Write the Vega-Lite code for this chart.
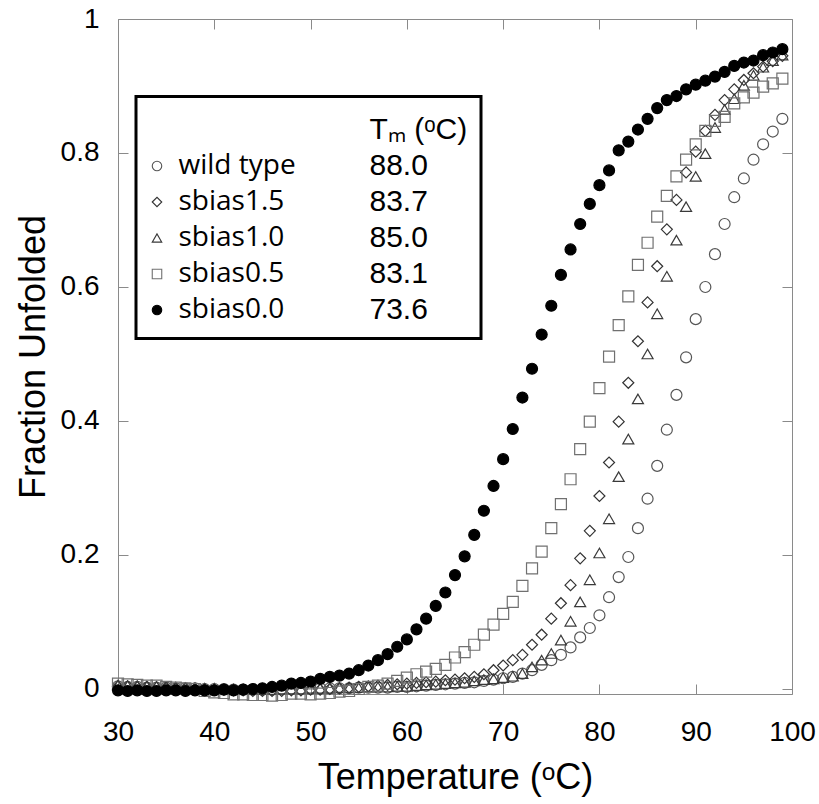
{
  "$schema": "https://vega.github.io/schema/vega-lite/v6.json",
  "width": 674,
  "height": 675,
  "autosize": "none",
  "padding": {"left": 118, "top": 19, "right": 27, "bottom": 110},
  "background": "white",
  "config": {
    "view": {"stroke": "#8a8a8a", "strokeWidth": 1},
    "font": "Liberation Sans",
    "axis": {
      "domain": false,
      "grid": false,
      "tickColor": "#8a8a8a",
      "tickWidth": 1,
      "tickSize": -10,
      "labelFlush": false,
      "labelFont": "Liberation Sans",
      "labelFontSize": 28,
      "labelColor": "black",
      "titleFont": "Liberation Sans",
      "titleFontSize": 36,
      "titleFontWeight": "normal",
      "titleColor": "black"
    }
  },
  "data": {
    "values": [
      {"series": "wild type", "temp": 30, "frac": 0.004}, {"series": "wild type", "temp": 31, "frac": 0.003}, {"series": "wild type", "temp": 32, "frac": 0.003}, {"series": "wild type", "temp": 33, "frac": 0.002}, {"series": "wild type", "temp": 34, "frac": 0.002}, {"series": "wild type", "temp": 35, "frac": 0.002}, {"series": "wild type", "temp": 36, "frac": 0.001}, {"series": "wild type", "temp": 37, "frac": 0.001}, {"series": "wild type", "temp": 38, "frac": 0.001}, {"series": "wild type", "temp": 39, "frac": 0.0},
      {"series": "wild type", "temp": 40, "frac": 0.0}, {"series": "wild type", "temp": 41, "frac": 0.0}, {"series": "wild type", "temp": 42, "frac": -0.001}, {"series": "wild type", "temp": 43, "frac": -0.001}, {"series": "wild type", "temp": 44, "frac": -0.001}, {"series": "wild type", "temp": 45, "frac": -0.001}, {"series": "wild type", "temp": 46, "frac": -0.001}, {"series": "wild type", "temp": 47, "frac": 0.0}, {"series": "wild type", "temp": 48, "frac": 0.0}, {"series": "wild type", "temp": 49, "frac": 0.0},
      {"series": "wild type", "temp": 50, "frac": 0.0}, {"series": "wild type", "temp": 51, "frac": 0.001}, {"series": "wild type", "temp": 52, "frac": 0.001}, {"series": "wild type", "temp": 53, "frac": 0.001}, {"series": "wild type", "temp": 54, "frac": 0.001}, {"series": "wild type", "temp": 55, "frac": 0.002}, {"series": "wild type", "temp": 56, "frac": 0.002}, {"series": "wild type", "temp": 57, "frac": 0.002}, {"series": "wild type", "temp": 58, "frac": 0.002}, {"series": "wild type", "temp": 59, "frac": 0.003},
      {"series": "wild type", "temp": 60, "frac": 0.003}, {"series": "wild type", "temp": 61, "frac": 0.004}, {"series": "wild type", "temp": 62, "frac": 0.005}, {"series": "wild type", "temp": 63, "frac": 0.006}, {"series": "wild type", "temp": 64, "frac": 0.007}, {"series": "wild type", "temp": 65, "frac": 0.008}, {"series": "wild type", "temp": 66, "frac": 0.009}, {"series": "wild type", "temp": 67, "frac": 0.010}, {"series": "wild type", "temp": 68, "frac": 0.012}, {"series": "wild type", "temp": 69, "frac": 0.014},
      {"series": "wild type", "temp": 70, "frac": 0.016}, {"series": "wild type", "temp": 71, "frac": 0.018}, {"series": "wild type", "temp": 72, "frac": 0.023}, {"series": "wild type", "temp": 73, "frac": 0.028}, {"series": "wild type", "temp": 74, "frac": 0.036}, {"series": "wild type", "temp": 75, "frac": 0.043}, {"series": "wild type", "temp": 76, "frac": 0.051}, {"series": "wild type", "temp": 77, "frac": 0.062}, {"series": "wild type", "temp": 78, "frac": 0.077}, {"series": "wild type", "temp": 79, "frac": 0.091},
      {"series": "wild type", "temp": 80, "frac": 0.110}, {"series": "wild type", "temp": 81, "frac": 0.137}, {"series": "wild type", "temp": 82, "frac": 0.167}, {"series": "wild type", "temp": 83, "frac": 0.197}, {"series": "wild type", "temp": 84, "frac": 0.240}, {"series": "wild type", "temp": 85, "frac": 0.284}, {"series": "wild type", "temp": 86, "frac": 0.333}, {"series": "wild type", "temp": 87, "frac": 0.387}, {"series": "wild type", "temp": 88, "frac": 0.439}, {"series": "wild type", "temp": 89, "frac": 0.495},
      {"series": "wild type", "temp": 90, "frac": 0.552}, {"series": "wild type", "temp": 91, "frac": 0.600}, {"series": "wild type", "temp": 92, "frac": 0.649}, {"series": "wild type", "temp": 93, "frac": 0.694}, {"series": "wild type", "temp": 94, "frac": 0.734}, {"series": "wild type", "temp": 95, "frac": 0.762}, {"series": "wild type", "temp": 96, "frac": 0.790}, {"series": "wild type", "temp": 97, "frac": 0.813}, {"series": "wild type", "temp": 98, "frac": 0.832}, {"series": "wild type", "temp": 99, "frac": 0.851},

      {"series": "sbias1.5", "temp": 30, "frac": 0.004}, {"series": "sbias1.5", "temp": 31, "frac": 0.004}, {"series": "sbias1.5", "temp": 32, "frac": 0.003}, {"series": "sbias1.5", "temp": 33, "frac": 0.003}, {"series": "sbias1.5", "temp": 34, "frac": 0.002}, {"series": "sbias1.5", "temp": 35, "frac": 0.002}, {"series": "sbias1.5", "temp": 36, "frac": 0.001}, {"series": "sbias1.5", "temp": 37, "frac": 0.001}, {"series": "sbias1.5", "temp": 38, "frac": 0.0}, {"series": "sbias1.5", "temp": 39, "frac": 0.0},
      {"series": "sbias1.5", "temp": 40, "frac": -0.001}, {"series": "sbias1.5", "temp": 41, "frac": -0.001}, {"series": "sbias1.5", "temp": 42, "frac": -0.002}, {"series": "sbias1.5", "temp": 43, "frac": -0.002}, {"series": "sbias1.5", "temp": 44, "frac": -0.003}, {"series": "sbias1.5", "temp": 45, "frac": -0.003}, {"series": "sbias1.5", "temp": 46, "frac": -0.003}, {"series": "sbias1.5", "temp": 47, "frac": -0.003}, {"series": "sbias1.5", "temp": 48, "frac": -0.002}, {"series": "sbias1.5", "temp": 49, "frac": -0.002},
      {"series": "sbias1.5", "temp": 50, "frac": -0.001}, {"series": "sbias1.5", "temp": 51, "frac": -0.001}, {"series": "sbias1.5", "temp": 52, "frac": 0.0}, {"series": "sbias1.5", "temp": 53, "frac": 0.001}, {"series": "sbias1.5", "temp": 54, "frac": 0.002}, {"series": "sbias1.5", "temp": 55, "frac": 0.003}, {"series": "sbias1.5", "temp": 56, "frac": 0.004}, {"series": "sbias1.5", "temp": 57, "frac": 0.005}, {"series": "sbias1.5", "temp": 58, "frac": 0.006}, {"series": "sbias1.5", "temp": 59, "frac": 0.007},
      {"series": "sbias1.5", "temp": 60, "frac": 0.008}, {"series": "sbias1.5", "temp": 61, "frac": 0.009}, {"series": "sbias1.5", "temp": 62, "frac": 0.010}, {"series": "sbias1.5", "temp": 63, "frac": 0.011}, {"series": "sbias1.5", "temp": 64, "frac": 0.013}, {"series": "sbias1.5", "temp": 65, "frac": 0.014}, {"series": "sbias1.5", "temp": 66, "frac": 0.016}, {"series": "sbias1.5", "temp": 67, "frac": 0.018}, {"series": "sbias1.5", "temp": 68, "frac": 0.022}, {"series": "sbias1.5", "temp": 69, "frac": 0.028},
      {"series": "sbias1.5", "temp": 70, "frac": 0.035}, {"series": "sbias1.5", "temp": 71, "frac": 0.043}, {"series": "sbias1.5", "temp": 72, "frac": 0.051}, {"series": "sbias1.5", "temp": 73, "frac": 0.066}, {"series": "sbias1.5", "temp": 74, "frac": 0.081}, {"series": "sbias1.5", "temp": 75, "frac": 0.105}, {"series": "sbias1.5", "temp": 76, "frac": 0.128}, {"series": "sbias1.5", "temp": 77, "frac": 0.155}, {"series": "sbias1.5", "temp": 78, "frac": 0.195}, {"series": "sbias1.5", "temp": 79, "frac": 0.236},
      {"series": "sbias1.5", "temp": 80, "frac": 0.288}, {"series": "sbias1.5", "temp": 81, "frac": 0.338}, {"series": "sbias1.5", "temp": 82, "frac": 0.399}, {"series": "sbias1.5", "temp": 83, "frac": 0.457}, {"series": "sbias1.5", "temp": 84, "frac": 0.519}, {"series": "sbias1.5", "temp": 85, "frac": 0.577}, {"series": "sbias1.5", "temp": 86, "frac": 0.631}, {"series": "sbias1.5", "temp": 87, "frac": 0.686}, {"series": "sbias1.5", "temp": 88, "frac": 0.730}, {"series": "sbias1.5", "temp": 89, "frac": 0.771},
      {"series": "sbias1.5", "temp": 90, "frac": 0.802}, {"series": "sbias1.5", "temp": 91, "frac": 0.833}, {"series": "sbias1.5", "temp": 92, "frac": 0.857}, {"series": "sbias1.5", "temp": 93, "frac": 0.879}, {"series": "sbias1.5", "temp": 94, "frac": 0.895}, {"series": "sbias1.5", "temp": 95, "frac": 0.909}, {"series": "sbias1.5", "temp": 96, "frac": 0.919}, {"series": "sbias1.5", "temp": 97, "frac": 0.929}, {"series": "sbias1.5", "temp": 98, "frac": 0.937}, {"series": "sbias1.5", "temp": 99, "frac": 0.945},

      {"series": "sbias1.0", "temp": 30, "frac": 0.006}, {"series": "sbias1.0", "temp": 31, "frac": 0.005}, {"series": "sbias1.0", "temp": 32, "frac": 0.005}, {"series": "sbias1.0", "temp": 33, "frac": 0.004}, {"series": "sbias1.0", "temp": 34, "frac": 0.004}, {"series": "sbias1.0", "temp": 35, "frac": 0.003}, {"series": "sbias1.0", "temp": 36, "frac": 0.003}, {"series": "sbias1.0", "temp": 37, "frac": 0.002}, {"series": "sbias1.0", "temp": 38, "frac": 0.002}, {"series": "sbias1.0", "temp": 39, "frac": 0.001},
      {"series": "sbias1.0", "temp": 40, "frac": 0.001}, {"series": "sbias1.0", "temp": 41, "frac": 0.0}, {"series": "sbias1.0", "temp": 42, "frac": 0.0}, {"series": "sbias1.0", "temp": 43, "frac": 0.0}, {"series": "sbias1.0", "temp": 44, "frac": -0.001}, {"series": "sbias1.0", "temp": 45, "frac": -0.001}, {"series": "sbias1.0", "temp": 46, "frac": -0.001}, {"series": "sbias1.0", "temp": 47, "frac": 0.0}, {"series": "sbias1.0", "temp": 48, "frac": 0.0}, {"series": "sbias1.0", "temp": 49, "frac": 0.0},
      {"series": "sbias1.0", "temp": 50, "frac": 0.001}, {"series": "sbias1.0", "temp": 51, "frac": 0.001}, {"series": "sbias1.0", "temp": 52, "frac": 0.001}, {"series": "sbias1.0", "temp": 53, "frac": 0.002}, {"series": "sbias1.0", "temp": 54, "frac": 0.002}, {"series": "sbias1.0", "temp": 55, "frac": 0.002}, {"series": "sbias1.0", "temp": 56, "frac": 0.003}, {"series": "sbias1.0", "temp": 57, "frac": 0.003}, {"series": "sbias1.0", "temp": 58, "frac": 0.003}, {"series": "sbias1.0", "temp": 59, "frac": 0.004},
      {"series": "sbias1.0", "temp": 60, "frac": 0.004}, {"series": "sbias1.0", "temp": 61, "frac": 0.005}, {"series": "sbias1.0", "temp": 62, "frac": 0.006}, {"series": "sbias1.0", "temp": 63, "frac": 0.007}, {"series": "sbias1.0", "temp": 64, "frac": 0.008}, {"series": "sbias1.0", "temp": 65, "frac": 0.009}, {"series": "sbias1.0", "temp": 66, "frac": 0.010}, {"series": "sbias1.0", "temp": 67, "frac": 0.012}, {"series": "sbias1.0", "temp": 68, "frac": 0.014}, {"series": "sbias1.0", "temp": 69, "frac": 0.015},
      {"series": "sbias1.0", "temp": 70, "frac": 0.017}, {"series": "sbias1.0", "temp": 71, "frac": 0.019}, {"series": "sbias1.0", "temp": 72, "frac": 0.023}, {"series": "sbias1.0", "temp": 73, "frac": 0.033}, {"series": "sbias1.0", "temp": 74, "frac": 0.043}, {"series": "sbias1.0", "temp": 75, "frac": 0.053}, {"series": "sbias1.0", "temp": 76, "frac": 0.073}, {"series": "sbias1.0", "temp": 77, "frac": 0.101}, {"series": "sbias1.0", "temp": 78, "frac": 0.130}, {"series": "sbias1.0", "temp": 79, "frac": 0.163},
      {"series": "sbias1.0", "temp": 80, "frac": 0.203}, {"series": "sbias1.0", "temp": 81, "frac": 0.254}, {"series": "sbias1.0", "temp": 82, "frac": 0.317}, {"series": "sbias1.0", "temp": 83, "frac": 0.373}, {"series": "sbias1.0", "temp": 84, "frac": 0.433}, {"series": "sbias1.0", "temp": 85, "frac": 0.500}, {"series": "sbias1.0", "temp": 86, "frac": 0.560}, {"series": "sbias1.0", "temp": 87, "frac": 0.616}, {"series": "sbias1.0", "temp": 88, "frac": 0.670}, {"series": "sbias1.0", "temp": 89, "frac": 0.720},
      {"series": "sbias1.0", "temp": 90, "frac": 0.765}, {"series": "sbias1.0", "temp": 91, "frac": 0.799}, {"series": "sbias1.0", "temp": 92, "frac": 0.838}, {"series": "sbias1.0", "temp": 93, "frac": 0.865}, {"series": "sbias1.0", "temp": 94, "frac": 0.881}, {"series": "sbias1.0", "temp": 95, "frac": 0.901}, {"series": "sbias1.0", "temp": 96, "frac": 0.916}, {"series": "sbias1.0", "temp": 97, "frac": 0.928}, {"series": "sbias1.0", "temp": 98, "frac": 0.938}, {"series": "sbias1.0", "temp": 99, "frac": 0.946},

      {"series": "sbias0.5", "temp": 30, "frac": 0.008}, {"series": "sbias0.5", "temp": 31, "frac": 0.007}, {"series": "sbias0.5", "temp": 32, "frac": 0.006}, {"series": "sbias0.5", "temp": 33, "frac": 0.005}, {"series": "sbias0.5", "temp": 34, "frac": 0.005}, {"series": "sbias0.5", "temp": 35, "frac": 0.003}, {"series": "sbias0.5", "temp": 36, "frac": 0.002}, {"series": "sbias0.5", "temp": 37, "frac": 0.001}, {"series": "sbias0.5", "temp": 38, "frac": 0.0}, {"series": "sbias0.5", "temp": 39, "frac": -0.003},
      {"series": "sbias0.5", "temp": 40, "frac": -0.005}, {"series": "sbias0.5", "temp": 41, "frac": -0.006}, {"series": "sbias0.5", "temp": 42, "frac": -0.008}, {"series": "sbias0.5", "temp": 43, "frac": -0.008}, {"series": "sbias0.5", "temp": 44, "frac": -0.009}, {"series": "sbias0.5", "temp": 45, "frac": -0.009}, {"series": "sbias0.5", "temp": 46, "frac": -0.010}, {"series": "sbias0.5", "temp": 47, "frac": -0.009}, {"series": "sbias0.5", "temp": 48, "frac": -0.007}, {"series": "sbias0.5", "temp": 49, "frac": -0.007},
      {"series": "sbias0.5", "temp": 50, "frac": -0.008}, {"series": "sbias0.5", "temp": 51, "frac": -0.007}, {"series": "sbias0.5", "temp": 52, "frac": -0.006}, {"series": "sbias0.5", "temp": 53, "frac": -0.004}, {"series": "sbias0.5", "temp": 54, "frac": -0.003}, {"series": "sbias0.5", "temp": 55, "frac": 0.0}, {"series": "sbias0.5", "temp": 56, "frac": 0.003}, {"series": "sbias0.5", "temp": 57, "frac": 0.005}, {"series": "sbias0.5", "temp": 58, "frac": 0.008}, {"series": "sbias0.5", "temp": 59, "frac": 0.012},
      {"series": "sbias0.5", "temp": 60, "frac": 0.017}, {"series": "sbias0.5", "temp": 61, "frac": 0.022}, {"series": "sbias0.5", "temp": 62, "frac": 0.026}, {"series": "sbias0.5", "temp": 63, "frac": 0.030}, {"series": "sbias0.5", "temp": 64, "frac": 0.036}, {"series": "sbias0.5", "temp": 65, "frac": 0.047}, {"series": "sbias0.5", "temp": 66, "frac": 0.055}, {"series": "sbias0.5", "temp": 67, "frac": 0.066}, {"series": "sbias0.5", "temp": 68, "frac": 0.081}, {"series": "sbias0.5", "temp": 69, "frac": 0.096},
      {"series": "sbias0.5", "temp": 70, "frac": 0.112}, {"series": "sbias0.5", "temp": 71, "frac": 0.130}, {"series": "sbias0.5", "temp": 72, "frac": 0.154}, {"series": "sbias0.5", "temp": 73, "frac": 0.180}, {"series": "sbias0.5", "temp": 74, "frac": 0.205}, {"series": "sbias0.5", "temp": 75, "frac": 0.240}, {"series": "sbias0.5", "temp": 76, "frac": 0.276}, {"series": "sbias0.5", "temp": 77, "frac": 0.313}, {"series": "sbias0.5", "temp": 78, "frac": 0.358}, {"series": "sbias0.5", "temp": 79, "frac": 0.399},
      {"series": "sbias0.5", "temp": 80, "frac": 0.449}, {"series": "sbias0.5", "temp": 81, "frac": 0.496}, {"series": "sbias0.5", "temp": 82, "frac": 0.543}, {"series": "sbias0.5", "temp": 83, "frac": 0.586}, {"series": "sbias0.5", "temp": 84, "frac": 0.633}, {"series": "sbias0.5", "temp": 85, "frac": 0.666}, {"series": "sbias0.5", "temp": 86, "frac": 0.705}, {"series": "sbias0.5", "temp": 87, "frac": 0.736}, {"series": "sbias0.5", "temp": 88, "frac": 0.765}, {"series": "sbias0.5", "temp": 89, "frac": 0.790},
      {"series": "sbias0.5", "temp": 90, "frac": 0.813}, {"series": "sbias0.5", "temp": 91, "frac": 0.833}, {"series": "sbias0.5", "temp": 92, "frac": 0.848}, {"series": "sbias0.5", "temp": 93, "frac": 0.854}, {"series": "sbias0.5", "temp": 94, "frac": 0.874}, {"series": "sbias0.5", "temp": 95, "frac": 0.883}, {"series": "sbias0.5", "temp": 96, "frac": 0.890}, {"series": "sbias0.5", "temp": 97, "frac": 0.899}, {"series": "sbias0.5", "temp": 98, "frac": 0.904}, {"series": "sbias0.5", "temp": 99, "frac": 0.911},

      {"series": "sbias0.0", "temp": 30, "frac": -0.002}, {"series": "sbias0.0", "temp": 31, "frac": -0.003}, {"series": "sbias0.0", "temp": 32, "frac": -0.002}, {"series": "sbias0.0", "temp": 33, "frac": -0.003}, {"series": "sbias0.0", "temp": 34, "frac": -0.003}, {"series": "sbias0.0", "temp": 35, "frac": -0.002}, {"series": "sbias0.0", "temp": 36, "frac": -0.002}, {"series": "sbias0.0", "temp": 37, "frac": -0.003}, {"series": "sbias0.0", "temp": 38, "frac": -0.002}, {"series": "sbias0.0", "temp": 39, "frac": -0.002},
      {"series": "sbias0.0", "temp": 40, "frac": -0.002}, {"series": "sbias0.0", "temp": 41, "frac": -0.001}, {"series": "sbias0.0", "temp": 42, "frac": -0.002}, {"series": "sbias0.0", "temp": 43, "frac": -0.001}, {"series": "sbias0.0", "temp": 44, "frac": 0.0}, {"series": "sbias0.0", "temp": 45, "frac": 0.001}, {"series": "sbias0.0", "temp": 46, "frac": 0.003}, {"series": "sbias0.0", "temp": 47, "frac": 0.005}, {"series": "sbias0.0", "temp": 48, "frac": 0.008}, {"series": "sbias0.0", "temp": 49, "frac": 0.009},
      {"series": "sbias0.0", "temp": 50, "frac": 0.011}, {"series": "sbias0.0", "temp": 51, "frac": 0.015}, {"series": "sbias0.0", "temp": 52, "frac": 0.018}, {"series": "sbias0.0", "temp": 53, "frac": 0.020}, {"series": "sbias0.0", "temp": 54, "frac": 0.023}, {"series": "sbias0.0", "temp": 55, "frac": 0.028}, {"series": "sbias0.0", "temp": 56, "frac": 0.035}, {"series": "sbias0.0", "temp": 57, "frac": 0.043}, {"series": "sbias0.0", "temp": 58, "frac": 0.052}, {"series": "sbias0.0", "temp": 59, "frac": 0.063},
      {"series": "sbias0.0", "temp": 60, "frac": 0.074}, {"series": "sbias0.0", "temp": 61, "frac": 0.089}, {"series": "sbias0.0", "temp": 62, "frac": 0.105}, {"series": "sbias0.0", "temp": 63, "frac": 0.124}, {"series": "sbias0.0", "temp": 64, "frac": 0.144}, {"series": "sbias0.0", "temp": 65, "frac": 0.170}, {"series": "sbias0.0", "temp": 66, "frac": 0.198}, {"series": "sbias0.0", "temp": 67, "frac": 0.230}, {"series": "sbias0.0", "temp": 68, "frac": 0.266}, {"series": "sbias0.0", "temp": 69, "frac": 0.303},
      {"series": "sbias0.0", "temp": 70, "frac": 0.343}, {"series": "sbias0.0", "temp": 71, "frac": 0.388}, {"series": "sbias0.0", "temp": 72, "frac": 0.435}, {"series": "sbias0.0", "temp": 73, "frac": 0.478}, {"series": "sbias0.0", "temp": 74, "frac": 0.529}, {"series": "sbias0.0", "temp": 75, "frac": 0.572}, {"series": "sbias0.0", "temp": 76, "frac": 0.618}, {"series": "sbias0.0", "temp": 77, "frac": 0.656}, {"series": "sbias0.0", "temp": 78, "frac": 0.694}, {"series": "sbias0.0", "temp": 79, "frac": 0.724},
      {"series": "sbias0.0", "temp": 80, "frac": 0.752}, {"series": "sbias0.0", "temp": 81, "frac": 0.774}, {"series": "sbias0.0", "temp": 82, "frac": 0.804}, {"series": "sbias0.0", "temp": 83, "frac": 0.817}, {"series": "sbias0.0", "temp": 84, "frac": 0.835}, {"series": "sbias0.0", "temp": 85, "frac": 0.851}, {"series": "sbias0.0", "temp": 86, "frac": 0.867}, {"series": "sbias0.0", "temp": 87, "frac": 0.879}, {"series": "sbias0.0", "temp": 88, "frac": 0.885}, {"series": "sbias0.0", "temp": 89, "frac": 0.895},
      {"series": "sbias0.0", "temp": 90, "frac": 0.902}, {"series": "sbias0.0", "temp": 91, "frac": 0.908}, {"series": "sbias0.0", "temp": 92, "frac": 0.914}, {"series": "sbias0.0", "temp": 93, "frac": 0.921}, {"series": "sbias0.0", "temp": 94, "frac": 0.930}, {"series": "sbias0.0", "temp": 95, "frac": 0.935}, {"series": "sbias0.0", "temp": 96, "frac": 0.938}, {"series": "sbias0.0", "temp": 97, "frac": 0.946}, {"series": "sbias0.0", "temp": 98, "frac": 0.950}, {"series": "sbias0.0", "temp": 99, "frac": 0.955}
    ]
  },
  "layer": [
    {
      "mark": {"type": "point", "size": 121, "strokeWidth": 1.2, "opacity": 1},
      "encoding": {
        "x": {
          "field": "temp", "type": "quantitative",
          "scale": {"domain": [30, 100], "nice": false, "zero": false},
          "axis": {"orient": "bottom", "values": [30, 40, 50, 60, 70, 80, 90, 100], "labelPadding": 34, "title": "Temperature (ᵒC)", "titlePadding": 14}
        },
        "y": {
          "field": "frac", "type": "quantitative",
          "scale": {"domain": [-0.0075, 1], "nice": false, "zero": false},
          "axis": {"orient": "left", "values": [0, 0.2, 0.4, 0.6, 0.8, 1], "format": "~g", "labelPadding": 29, "title": "Fraction Unfolded", "titlePadding": 8}
        },
        "shape": {
          "field": "series", "type": "nominal",
          "scale": {
            "domain": [" ", "Tₘ (ᵒC)", "wild type", "88.0", "sbias1.5", "83.7", "sbias1.0", "85.0", "sbias0.5", "83.1", "sbias0.0", "73.6"],
            "range": ["circle", "circle", "circle", "circle", "diamond", "circle", "triangle-up", "circle", "square", "circle", "circle", "circle"]
          },
          "legend": {
            "orient": "none", "legendX": 18, "legendY": 77.5, "columns": 2, "direction": "horizontal",
            "title": "\u00a0", "titleFontSize": 10, "titlePadding": 5,
            "padding": 13, "strokeColor": "black", "fillColor": "white",
            "symbolSize": 90, "symbolStrokeWidth": 1.1, "symbolOffset": 2.5, "labelOffset": 16,
            "columnPadding": 44, "rowPadding": 5, "labelLimit": 400, "labelColor": "black",
            "labelFont": "Open Sans", "labelFontSize": 28,
            "labelExpr": "datum.value === 'Tₘ (ᵒC)' ? 'Tₘ (ᵒC)\u00a0\u00a0' : datum.label",
            "encoding": {
              "legend": {"strokeWidth": {"value": 3}},
              "symbols": {"opacity": {"condition": {"test": "indexof(['wild type','sbias1.5','sbias1.0','sbias0.5','sbias0.0'], datum.value) >= 0", "value": 1}, "value": 0}},
              "labels": {
                "font": {"condition": {"test": "indexof(['wild type','sbias1.5','sbias1.0','sbias0.5','sbias0.0'], datum.value) >= 0", "value": "Open Sans"}, "value": "Liberation Sans"},
                "fontSize": {"condition": {"test": "indexof(['wild type','sbias1.5','sbias1.0','sbias0.5','sbias0.0'], datum.value) >= 0", "value": 28}, "value": 30}
              }
            }
          }
        },
        "fill": {
          "field": "series", "type": "nominal",
          "scale": {
            "domain": [" ", "Tₘ (ᵒC)", "wild type", "88.0", "sbias1.5", "83.7", "sbias1.0", "85.0", "sbias0.5", "83.1", "sbias0.0", "73.6"],
            "range": ["transparent", "transparent", "transparent", "transparent", "transparent", "transparent", "transparent", "transparent", "transparent", "transparent", "black", "transparent"]
          }
        },
        "stroke": {
          "field": "series", "type": "nominal",
          "scale": {
            "domain": [" ", "Tₘ (ᵒC)", "wild type", "88.0", "sbias1.5", "83.7", "sbias1.0", "85.0", "sbias0.5", "83.1", "sbias0.0", "73.6"],
            "range": ["white", "white", "#555555", "white", "#333333", "white", "#3a3a3a", "white", "#707070", "white", "black", "white"]
          }
        }
      }
    },
    {
      "mark": {"type": "point", "opacity": 0},
      "encoding": {
        "x": {"field": "temp", "type": "quantitative", "axis": {"orient": "top", "values": [30, 40, 50, 60, 70, 80, 90, 100], "labels": false, "title": null}},
        "y": {"field": "frac", "type": "quantitative", "axis": {"orient": "right", "values": [0, 0.2, 0.4, 0.6, 0.8, 1], "labels": false, "title": null}}
      }
    }
  ],
  "resolve": {"axis": {"x": "independent", "y": "independent"}}
}
